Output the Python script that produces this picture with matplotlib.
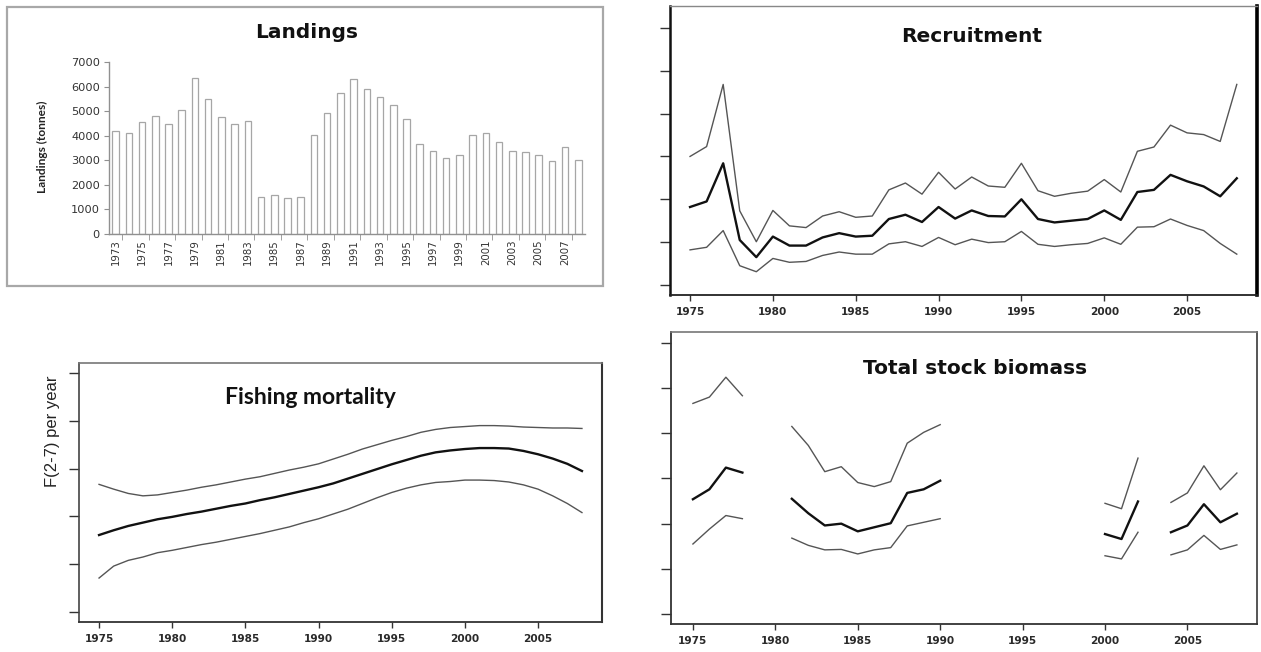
import numpy as np
import matplotlib
matplotlib.use("Agg")
import matplotlib.pyplot as plt
from matplotlib.patches import Rectangle

# ---------------- data ----------------
land_years = list(range(1973, 2009))
landings = [4200, 4100, 4570, 4800, 4470, 5040, 6350, 5490, 4770, 4460, 4580,
            1490, 1580, 1450, 1490, 4030, 4930, 5740, 6320, 5920, 5570, 5260,
            4690, 3650, 3380, 3110, 3220, 4040, 4110, 3760, 3380, 3320, 3220,
            2970, 3540, 3030]

years = list(range(1975, 2009))

rec_upper = [3.00, 3.23, 4.68, 1.73, 1.01, 1.74, 1.38, 1.34, 1.61, 1.71, 1.58, 1.61,
             2.22, 2.38, 2.12, 2.63, 2.24, 2.52, 2.31, 2.28, 2.84, 2.20, 2.07, 2.14,
             2.19, 2.46, 2.17, 3.12, 3.22, 3.73, 3.55, 3.51, 3.35, 4.68]
rec_mid = [1.82, 1.95, 2.84, 1.05, 0.65, 1.13, 0.92, 0.92, 1.11, 1.21, 1.13, 1.15,
           1.54, 1.64, 1.47, 1.82, 1.55, 1.74, 1.61, 1.60, 2.00, 1.54, 1.46, 1.50,
           1.54, 1.74, 1.52, 2.17, 2.22, 2.57, 2.42, 2.30, 2.07, 2.49]
rec_lower = [0.82, 0.88, 1.27, 0.45, 0.31, 0.62, 0.53, 0.55, 0.69, 0.77, 0.72, 0.72,
             0.96, 1.01, 0.90, 1.11, 0.94, 1.07, 0.99, 1.01, 1.25, 0.95, 0.90, 0.94,
             0.97, 1.10, 0.95, 1.35, 1.36, 1.54, 1.39, 1.27, 0.97, 0.72]

f_upper = [2.67, 2.57, 2.48, 2.43, 2.45, 2.50, 2.55, 2.61, 2.66, 2.72, 2.78, 2.83,
           2.90, 2.97, 3.03, 3.10, 3.20, 3.30, 3.41, 3.50, 3.59, 3.67, 3.76, 3.82,
           3.86, 3.88, 3.90, 3.90, 3.89, 3.87, 3.86, 3.85, 3.85, 3.84]
f_mid = [1.61, 1.71, 1.80, 1.87, 1.94, 1.99, 2.05, 2.10, 2.16, 2.22, 2.27, 2.34,
         2.40, 2.47, 2.54, 2.61, 2.69, 2.79, 2.89, 2.99, 3.09, 3.18, 3.27, 3.34,
         3.38, 3.41, 3.43, 3.43, 3.42, 3.37, 3.30, 3.21, 3.10, 2.95]
f_lower = [0.71, 0.96, 1.08, 1.15, 1.24, 1.29, 1.35, 1.41, 1.46, 1.52, 1.58, 1.64,
           1.71, 1.78, 1.87, 1.95, 2.05, 2.15, 2.27, 2.39, 2.50, 2.59, 2.66, 2.71,
           2.73, 2.76, 2.76, 2.75, 2.72, 2.66, 2.57, 2.43, 2.27, 2.08]

nan = float("nan")
tsb_upper = [4.66, 4.80, 5.24, 4.83, nan, nan, 4.15, 3.73, 3.15, 3.26, 2.91, 2.82,
             2.93, 3.78, 4.02, 4.19, nan, nan, nan, nan, nan, nan, nan, nan, nan,
             2.45, 2.33, 3.45, nan, 2.47, 2.68, 3.28, 2.75, 3.12]
tsb_mid = [2.54, 2.76, 3.24, 3.13, nan, nan, 2.55, 2.23, 1.96, 2.00, 1.83, 1.92,
           2.01, 2.68, 2.76, 2.95, nan, nan, nan, nan, nan, nan, nan, nan, nan,
           1.77, 1.66, 2.49, nan, 1.81, 1.96, 2.43, 2.03, 2.22]
tsb_lower = [1.55, 1.88, 2.18, 2.11, nan, nan, 1.68, 1.52, 1.42, 1.43, 1.33, 1.42,
             1.47, 1.95, 2.03, 2.11, nan, nan, nan, nan, nan, nan, nan, nan, nan,
             1.29, 1.22, 1.81, nan, 1.31, 1.42, 1.74, 1.43, 1.53]

xtick_years = [1975, 1980, 1985, 1990, 1995, 2000, 2005]

# ---------------- layout helpers ----------------
W, H = 1261, 652
fig = plt.figure(figsize=(W / 100, H / 100), dpi=100)


def rect(l, t, r, b):
    return [l / W, 1 - b / H, (r - l) / W, (b - t) / H]


def fx(x):
    return x / W


def fy(y):
    return 1 - y / H


TITLE_FONT = dict(family=["DejaVu Sans"], weight="bold", size=14.5, color="#111111")

# ---------------- Landings ----------------
fig.patches.append(Rectangle((fx(7), fy(286)), (603 - 7) / W, (286 - 7) / H,
                             transform=fig.transFigure, fill=False,
                             edgecolor="#a8a8a8", lw=1.6))
axL = fig.add_axes(rect(109, 62, 585, 234))
idx = np.arange(len(land_years))
axL.bar(idx, landings, width=0.5, color="white", edgecolor="#a6a6a6", lw=0.9)
axL.set_xlim(-0.5, len(land_years) - 0.5)
axL.set_ylim(0, 7000)
for s in ["top", "right"]:
    axL.spines[s].set_visible(False)
for s in ["left", "bottom"]:
    axL.spines[s].set_color("#909090")
    axL.spines[s].set_linewidth(1.0)
axL.set_yticks(range(0, 7001, 1000))
axL.set_yticklabels([str(v) for v in range(0, 7001, 1000)], family="DejaVu Sans",
                    fontsize=8.2, color="#333333")
axL.tick_params(axis="y", length=3.5, color="#909090", pad=3)
axL.set_xticks(idx[::2])
axL.set_xticklabels([str(y) for y in land_years[::2]], rotation=90,
                    family="DejaVu Sans", fontsize=7.3, color="#333333")
axL.tick_params(axis="x", length=0, pad=4)
axL.set_xticks(idx[::2] + 0.5, minor=True)
axL.tick_params(axis="x", which="minor", length=4, color="#909090")
fig.text(fx(42), fy(147), "Landings (tonnes)", rotation=90, ha="center", va="center",
         family=["Lato", "DejaVu Sans"], weight="bold", fontsize=8.6, color="#222222")
fig.text(fx(307), fy(33), "Landings", ha="center", va="center", **TITLE_FONT)


# ---------------- line panels ----------------
def style_line_panel(ax, nticks, xlim, ylim, spine_cols, spine_lws):
    ax.set_xlim(*xlim)
    ax.set_ylim(*ylim)
    ax.set_yticks(range(nticks))
    ax.set_yticklabels([])
    ax.set_xticks(xtick_years)
    ax.set_xticklabels([str(y) for y in xtick_years], family="DejaVu Sans",
                       weight="bold", fontsize=7.6, color="#2a2a2a")
    ax.tick_params(axis="y", length=7.2, width=1.0, color="#333333")
    ax.tick_params(axis="x", length=4.3, width=1.0, color="#333333", pad=4)
    for s in ["left", "right", "top", "bottom"]:
        ax.spines[s].set_color(spine_cols[s])
        ax.spines[s].set_linewidth(spine_lws[s])


def draw_bands(ax, up, mid, lo):
    ax.plot(years, up, color="#555555", lw=1.0)
    ax.plot(years, lo, color="#555555", lw=1.0)
    ax.plot(years, mid, color="#111111", lw=1.7)


# Recruitment
axR = fig.add_axes(rect(670, 6, 1257, 295))
draw_bands(axR, rec_upper, rec_mid, rec_lower)
style_line_panel(axR, 7, (1973.79, 2009.22), (-0.233, 6.51),
                 {"left": "#111111", "right": "#000000", "top": "#888888", "bottom": "#222222"},
                 {"left": 1.8, "right": 2.6, "top": 1.0, "bottom": 1.3})
fig.text(fx(972), fy(37), "Recruitment", ha="center", va="center", **TITLE_FONT)

# Fishing mortality
axF = fig.add_axes(rect(79, 363, 602, 622))
draw_bands(axF, f_upper, f_mid, f_lower)
style_line_panel(axF, 6, (1973.63, 2009.37), (-0.21, 5.21),
                 {"left": "#444444", "right": "#333333", "top": "#777777", "bottom": "#333333"},
                 {"left": 1.2, "right": 1.5, "top": 1.2, "bottom": 1.3})
fig.text(fx(53), fy(431), "F(2-7) per year", rotation=90, ha="center", va="center",
         family=["Liberation Sans", "DejaVu Sans"], fontsize=12, color="#222222")
fig.text(fx(310), fy(397), "Fishing mortality", ha="center", va="center",
         family=["Lato", "DejaVu Sans"], weight="bold", size=16.5, color="#111111")

# Total stock biomass
axT = fig.add_axes(rect(671, 332, 1257, 624))
draw_bands(axT, tsb_upper, tsb_mid, tsb_lower)
style_line_panel(axT, 7, (1973.67, 2009.22), (-0.22, 6.24),
                 {"left": "#333333", "right": "#555555", "top": "#777777", "bottom": "#333333"},
                 {"left": 1.3, "right": 1.4, "top": 1.2, "bottom": 1.3})
fig.text(fx(975), fy(368), "Total stock biomass", ha="center", va="center", **TITLE_FONT)

fig.savefig("out.png", dpi=100)
